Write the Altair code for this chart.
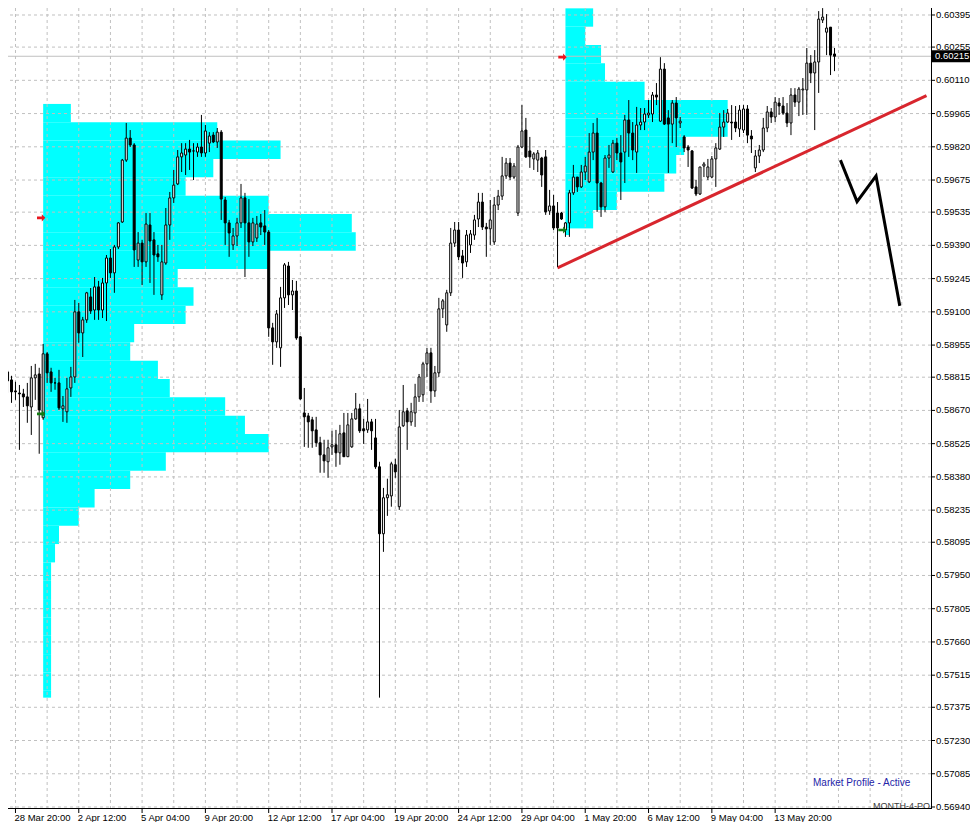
import altair as alt
import pandas as pd

# ---------------- data (H4 bars, bar 0 = 28 Mar 20:00) ----------------
FIRST_BAR = -2
opens = [
    0.58838, 0.58803, 0.58755, 0.58746, 0.58742, 0.58729, 0.58685, 0.58812, 0.58829, 0.58638,
    0.58917, 0.58838, 0.58790, 0.58790, 0.58677, 0.58664, 0.58768, 0.58816, 0.59100, 0.59008,
    0.59065, 0.59165, 0.59108, 0.59209, 0.59108, 0.59226, 0.59335, 0.59270, 0.59383, 0.59492,
    0.59762, 0.59858, 0.59828, 0.59326, 0.59400, 0.59318, 0.59479, 0.59414, 0.59353, 0.59174,
    0.59313, 0.59479, 0.59597, 0.59658, 0.59776, 0.59784, 0.59810, 0.59802, 0.59797, 0.59819,
    0.59793, 0.59836, 0.59871, 0.59841, 0.59884, 0.59588, 0.59488, 0.59392, 0.59431, 0.59488,
    0.59597, 0.59488, 0.59405, 0.59422, 0.59488, 0.59475, 0.59448, 0.59030, 0.58969, 0.58943,
    0.59161, 0.59300, 0.59174, 0.59191, 0.58991, 0.58659, 0.58646, 0.58629, 0.58585, 0.58529,
    0.58476, 0.58446, 0.58511, 0.58520, 0.58485, 0.58572, 0.58468, 0.58511, 0.58633, 0.58677,
    0.58590, 0.58585, 0.58620, 0.58550, 0.58424, 0.58132, 0.58289, 0.58297, 0.58433, 0.58250,
    0.58603, 0.58668, 0.58620, 0.58659, 0.58729, 0.58738, 0.58873, 0.58921, 0.58755, 0.58834,
    0.59113, 0.59043, 0.59183, 0.59400, 0.59457, 0.59344, 0.59318, 0.59392, 0.59435, 0.59505,
    0.59579, 0.59470, 0.59462, 0.59405, 0.59566, 0.59605, 0.59693, 0.59749, 0.59688, 0.59531,
    0.59819, 0.59893, 0.59802, 0.59767, 0.59762, 0.59771, 0.59776, 0.59540, 0.59562, 0.59531,
    0.59531, 0.59457, 0.59488, 0.59619, 0.59688, 0.59645, 0.59710, 0.59667, 0.59797, 0.59880,
    0.59662, 0.59558, 0.59771, 0.59710, 0.59836, 0.59793, 0.59797, 0.59937, 0.59880, 0.59797,
    0.59915, 0.59928, 0.59959, 0.59963, 0.60046, 0.59932, 0.60159, 0.59946, 0.59919, 0.60011,
    0.59924, 0.59863, 0.59819, 0.59802, 0.59645, 0.59614, 0.59736, 0.59688, 0.59688, 0.59767,
    0.59810, 0.59906, 0.59928, 0.59928, 0.59928, 0.59898, 0.59893, 0.59985, 0.59867, 0.59728,
    0.59780, 0.59806, 0.59902, 0.59972, 0.59950, 0.60011, 0.59998, 0.59967, 0.59924, 0.60046,
    0.60015, 0.60068, 0.60068, 0.60185, 0.60142, 0.60190, 0.60373, 0.60320, 0.60342, 0.60225,
]
highs = [
    0.58847, 0.58821, 0.58795, 0.58781, 0.58764, 0.58790, 0.58864, 0.58873, 0.58856, 0.58960,
    0.58925, 0.58856, 0.58812, 0.58847, 0.58733, 0.58812, 0.58860, 0.59152, 0.59139, 0.59078,
    0.59187, 0.59204, 0.59252, 0.59235, 0.59248, 0.59348, 0.59374, 0.59392, 0.59492, 0.59767,
    0.59924, 0.59893, 0.59836, 0.59448, 0.59414, 0.59531, 0.59531, 0.59448, 0.59392, 0.59392,
    0.59553, 0.59623, 0.59719, 0.59806, 0.59836, 0.59836, 0.59850, 0.59836, 0.59836, 0.59959,
    0.59915, 0.59884, 0.59884, 0.59902, 0.59893, 0.59601, 0.59501, 0.59466, 0.59510, 0.59658,
    0.59619, 0.59592, 0.59510, 0.59518, 0.59527, 0.59544, 0.59457, 0.59052, 0.59108, 0.59209,
    0.59313, 0.59318, 0.59239, 0.59235, 0.58995, 0.58768, 0.58659, 0.58642, 0.58642, 0.58555,
    0.58542, 0.58542, 0.58581, 0.58585, 0.58607, 0.58659, 0.58659, 0.58659, 0.58746, 0.58699,
    0.58633, 0.58720, 0.58633, 0.58633, 0.58446, 0.58332, 0.58372, 0.58446, 0.58459, 0.58672,
    0.58781, 0.58681, 0.58703, 0.58786, 0.58829, 0.58882, 0.58943, 0.58943, 0.58864, 0.59161,
    0.59156, 0.59196, 0.59466, 0.59492, 0.59492, 0.59370, 0.59457, 0.59457, 0.59523, 0.59619,
    0.59619, 0.59488, 0.59588, 0.59601, 0.59632, 0.59776, 0.59771, 0.59771, 0.59749, 0.59828,
    0.60002, 0.59946, 0.59863, 0.59797, 0.59806, 0.59776, 0.59806, 0.59632, 0.59610, 0.59579,
    0.59536, 0.59492, 0.59632, 0.59741, 0.59688, 0.59741, 0.59776, 0.59880, 0.59924, 0.59946,
    0.59667, 0.59784, 0.59828, 0.59850, 0.59858, 0.59871, 0.59959, 0.60024, 0.59928, 0.59994,
    0.59989, 0.59989, 0.60024, 0.60059, 0.60098, 0.60211, 0.60185, 0.59980, 0.60024, 0.60037,
    0.59950, 0.59871, 0.59828, 0.59806, 0.59675, 0.59732, 0.59754, 0.59767, 0.59780, 0.59836,
    0.59967, 0.59980, 0.59985, 0.60002, 0.59998, 0.60002, 0.60002, 0.60002, 0.59893, 0.59806,
    0.59828, 0.59946, 0.59998, 0.59989, 0.60037, 0.60033, 0.60037, 0.60011, 0.60076, 0.60076,
    0.60081, 0.60120, 0.60251, 0.60220, 0.60242, 0.60412, 0.60425, 0.60399, 0.60342, 0.60251,
]
lows = [
    0.58747, 0.58703, 0.58716, 0.58498, 0.58685, 0.58616, 0.58563, 0.58716, 0.58481, 0.58629,
    0.58790, 0.58751, 0.58760, 0.58672, 0.58620, 0.58616, 0.58729, 0.58790, 0.58965, 0.58903,
    0.59052, 0.59091, 0.59065, 0.59065, 0.59073, 0.59060, 0.59248, 0.59183, 0.59374, 0.59488,
    0.59754, 0.59819, 0.59296, 0.59296, 0.59217, 0.59296, 0.59226, 0.59174, 0.59318, 0.59152,
    0.59305, 0.59414, 0.59575, 0.59653, 0.59710, 0.59697, 0.59719, 0.59675, 0.59776, 0.59776,
    0.59776, 0.59797, 0.59836, 0.59815, 0.59501, 0.59392, 0.59340, 0.59370, 0.59387, 0.59466,
    0.59252, 0.59340, 0.59387, 0.59405, 0.59435, 0.59392, 0.58991, 0.58869, 0.58943, 0.58860,
    0.59117, 0.59130, 0.59108, 0.58978, 0.58716, 0.58511, 0.58507, 0.58507, 0.58511, 0.58398,
    0.58398, 0.58376, 0.58476, 0.58424, 0.58433, 0.58468, 0.58468, 0.58507, 0.58629, 0.58572,
    0.58524, 0.58572, 0.58498, 0.58415, 0.57417, 0.58053, 0.58210, 0.58250, 0.58376, 0.58236,
    0.58598, 0.58498, 0.58603, 0.58598, 0.58707, 0.58707, 0.58816, 0.58703, 0.58729, 0.58816,
    0.59073, 0.59013, 0.59169, 0.59383, 0.59326, 0.59248, 0.59296, 0.59357, 0.59414, 0.59470,
    0.59457, 0.59340, 0.59392, 0.59392, 0.59544, 0.59588, 0.59680, 0.59675, 0.59680, 0.59518,
    0.59815, 0.59771, 0.59728, 0.59719, 0.59710, 0.59645, 0.59523, 0.59523, 0.59457, 0.59296,
    0.59501, 0.59427, 0.59427, 0.59610, 0.59623, 0.59640, 0.59675, 0.59662, 0.59762, 0.59536,
    0.59514, 0.59536, 0.59728, 0.59706, 0.59762, 0.59588, 0.59662, 0.59776, 0.59762, 0.59706,
    0.59893, 0.59893, 0.59946, 0.59928, 0.60002, 0.59928, 0.59915, 0.59706, 0.59836, 0.59819,
    0.59902, 0.59797, 0.59732, 0.59636, 0.59605, 0.59610, 0.59688, 0.59675, 0.59684, 0.59645,
    0.59806, 0.59863, 0.59924, 0.59850, 0.59884, 0.59863, 0.59880, 0.59836, 0.59793, 0.59710,
    0.59749, 0.59797, 0.59884, 0.59924, 0.59928, 0.59959, 0.59959, 0.59906, 0.59871, 0.59994,
    0.59954, 0.59959, 0.59959, 0.60098, 0.59893, 0.60055, 0.60360, 0.60220, 0.60133, 0.60150,
]
closes = [
    0.58799, 0.58751, 0.58751, 0.58742, 0.58729, 0.58690, 0.58812, 0.58825, 0.58672, 0.58917,
    0.58834, 0.58790, 0.58790, 0.58681, 0.58690, 0.58764, 0.58816, 0.59100, 0.59008, 0.59065,
    0.59183, 0.59104, 0.59209, 0.59108, 0.59226, 0.59335, 0.59270, 0.59383, 0.59488, 0.59762,
    0.59858, 0.59828, 0.59370, 0.59400, 0.59318, 0.59483, 0.59409, 0.59348, 0.59340, 0.59318,
    0.59479, 0.59597, 0.59653, 0.59776, 0.59793, 0.59810, 0.59797, 0.59802, 0.59819, 0.59793,
    0.59889, 0.59867, 0.59841, 0.59884, 0.59592, 0.59488, 0.59444, 0.59431, 0.59488, 0.59597,
    0.59488, 0.59405, 0.59488, 0.59483, 0.59470, 0.59448, 0.59030, 0.58969, 0.59091, 0.59161,
    0.59305, 0.59174, 0.59191, 0.58986, 0.58720, 0.58642, 0.58620, 0.58581, 0.58529, 0.58476,
    0.58450, 0.58507, 0.58520, 0.58485, 0.58568, 0.58468, 0.58607, 0.58633, 0.58677, 0.58581,
    0.58581, 0.58620, 0.58581, 0.58424, 0.58132, 0.58289, 0.58302, 0.58437, 0.58402, 0.58598,
    0.58664, 0.58620, 0.58664, 0.58729, 0.58816, 0.58873, 0.58921, 0.58755, 0.58834, 0.59113,
    0.59148, 0.59183, 0.59400, 0.59457, 0.59340, 0.59313, 0.59435, 0.59440, 0.59501, 0.59579,
    0.59470, 0.59462, 0.59501, 0.59566, 0.59605, 0.59693, 0.59749, 0.59688, 0.59736, 0.59819,
    0.59889, 0.59776, 0.59776, 0.59789, 0.59793, 0.59697, 0.59536, 0.59562, 0.59466, 0.59466,
    0.59505, 0.59488, 0.59619, 0.59688, 0.59645, 0.59710, 0.59736, 0.59797, 0.59880, 0.59662,
    0.59558, 0.59771, 0.59784, 0.59836, 0.59793, 0.59754, 0.59937, 0.59880, 0.59806, 0.59915,
    0.59928, 0.59963, 0.59967, 0.60046, 0.60037, 0.60159, 0.59919, 0.59919, 0.60011, 0.59946,
    0.59932, 0.59815, 0.59806, 0.59640, 0.59614, 0.59732, 0.59745, 0.59732, 0.59767, 0.59815,
    0.59906, 0.59928, 0.59967, 0.59924, 0.59902, 0.59980, 0.59985, 0.59871, 0.59854, 0.59780,
    0.59806, 0.59902, 0.59972, 0.59950, 0.60015, 0.59998, 0.59967, 0.59924, 0.60046, 0.60015,
    0.60072, 0.60072, 0.60185, 0.60142, 0.60190, 0.60377, 0.60386, 0.60338, 0.60220, 0.60215,
]

tick_bars = [0, 16, 32, 48, 64, 80, 96, 112, 128, 144, 160, 176, 192]
tick_labels = ["28 Mar 20:00", "2 Apr 12:00", "5 Apr 04:00", "9 Apr 20:00", "12 Apr 12:00",
               "17 Apr 04:00", "19 Apr 20:00", "24 Apr 12:00", "29 Apr 04:00", "1 May 20:00",
               "6 May 12:00", "9 May 04:00", "13 May 20:00"]
y_ticks = [0.60395, 0.60255, 0.60110, 0.59965, 0.59820, 0.59675, 0.59535, 0.59390, 0.59245,
           0.59100, 0.58955, 0.58815, 0.58670, 0.58525, 0.58380, 0.58235, 0.58095, 0.57950,
           0.57805, 0.57660, 0.57515, 0.57375, 0.57230, 0.57085, 0.56940]

# Market profile (April): start bar, row tops, TPO counts, bottom price
p1_start = 7
p1_top = [0.60007, 0.59927, 0.59847, 0.59767, 0.59687, 0.59607, 0.59527, 0.59447, 0.59367,
          0.59287, 0.59207, 0.59127, 0.59047, 0.58967, 0.58887, 0.58807, 0.58727, 0.58647,
          0.58567, 0.58487, 0.58407, 0.58327, 0.58247, 0.58167, 0.58087, 0.58007, 0.57927,
          0.57847, 0.57767, 0.57687, 0.57607, 0.57527, 0.57447]
p1_tpo = [7, 44, 60, 43, 36, 57, 78, 79, 57, 34, 38, 36, 23, 22, 29, 32, 46, 51, 57, 31,
          22, 13, 9, 4, 3, 2, 2, 2, 2, 2, 2, 2, 2]
p1_low = 0.57417
# Market profile (May)
p2_start = 139
p2_top = [0.60424, 0.60344, 0.60264, 0.60184, 0.60104, 0.60024, 0.59944, 0.59864, 0.59784,
          0.59704, 0.59624, 0.59544, 0.59464]
p2_tpo = [7, 5, 9, 10, 20, 41, 41, 30, 28, 25, 13, 7, 1]
p2_low = 0.59435

trend_bars = [137, 230.25]
trend_prices = [0.59292, 0.60043]
zig_bars = [208.5, 212.7, 217.5, 223.5]
zig_prices = [0.59762, 0.59581, 0.59693, 0.59126]
arrow_bars = [6.5, 6.5, 138.25, 138.25]
arrow_prices = [0.59510, 0.58655, 0.60211, 0.59457]
arrow_kind = ["hi", "lo", "hi", "lo"]
current_price = 0.60215

# ---------------- layout ----------------
W, H = 923, 800
X_DOMAIN = [-0.625, 230.125]      # 4 px per bar, bar centres on pixel centres
Y_DOMAIN = [0.569356, 0.604255]
FONT = "Liberation Sans"

# ---------------- tables ----------------
n = min(len(opens), len(highs), len(lows), len(closes))
bars = list(range(FIRST_BAR, FIRST_BAR + n))
cdf = pd.DataFrame({"bar": bars, "open": opens[:n], "high": highs[:n],
                    "low": lows[:n], "close": closes[:n]})
cdf["bt"] = cdf[["open", "close"]].max(axis=1)
cdf["bb"] = cdf[["open", "close"]].min(axis=1)
cdf["high"] = cdf[["high", "bt"]].max(axis=1)
cdf["low"] = cdf[["low", "bb"]].min(axis=1)
cdf["dir"] = ["up" if c >= o else "down" for o, c in zip(cdf["open"], cdf["close"])]

rows = []
for start, tops, tpos, low in [(p1_start, p1_top, p1_tpo, p1_low), (p2_start, p2_top, p2_tpo, p2_low)]:
    bottoms = tops[1:] + [low]
    for t, b, k in zip(tops, bottoms, tpos):
        rows.append({"x0": start, "x1": start + k, "top": t, "bottom": b})
pdf = pd.DataFrame(rows)

xs = alt.Scale(domain=X_DOMAIN, nice=False, zero=False)
ys = alt.Scale(domain=Y_DOMAIN, nice=False, zero=False)


def X(f):
    return alt.X(f, scale=xs, axis=None, title=None)


def Y(f):
    return alt.Y(f, scale=ys, axis=None, title=None)


profile = alt.Chart(pdf).mark_rect(color="#00ffff", clip=True).encode(
    x=X("x0:Q"), x2="x1:Q", y=Y("top:Q"), y2="bottom:Q")

ytick_df = pd.DataFrame({"p": y_ticks})
grid_y = alt.Chart(ytick_df).mark_rule(
    color="#c0c0c0", strokeDash=[3, 3], strokeWidth=1, clip=True).encode(y=Y("p:Q"))
grid_x = alt.Chart(pd.DataFrame({"b": list(range(0, 231, 8))})).mark_rule(
    color="#c0c0c0", strokeDash=[3, 3], strokeWidth=1, clip=True).encode(x=X("b:Q"))

price_line = alt.Chart(pd.DataFrame({"p": [current_price]})).mark_rule(
    color="#c0c0c0", strokeWidth=1).encode(y=Y("p:Q"))

trend = alt.Chart(pd.DataFrame({"b": trend_bars, "p": trend_prices})).mark_line(
    color="#d8262e", strokeWidth=3, clip=True).encode(x=X("b:Q"), y=Y("p:Q"))

zig = alt.Chart(pd.DataFrame({"b": zig_bars, "p": zig_prices,
                              "o": list(range(len(zig_bars)))})).mark_line(
    color="black", strokeWidth=3, clip=True).encode(x=X("b:Q"), y=Y("p:Q"), order="o:Q")

wicks = alt.Chart(cdf).mark_rule(color="black", strokeWidth=1, clip=True).encode(
    x=X("bar:Q"), y=Y("low:Q"), y2="high:Q")

bodies = alt.Chart(cdf).mark_bar(width=2, stroke="black", strokeWidth=1, clip=True).encode(
    x=X("bar:Q"), y=Y("bb:Q"), y2="bt:Q",
    fill=alt.Fill("dir:N", scale=alt.Scale(domain=["up", "down"], range=["white", "black"]), legend=None))

ARROW = "M -1 -0.32 L 0.15 -0.32 L 0.15 -0.85 L 1 0 L 0.15 0.85 L 0.15 0.32 L -1 0.32 Z"
arrows = alt.Chart(pd.DataFrame({"b": arrow_bars, "p": arrow_prices, "k": arrow_kind})).mark_point(
    shape=ARROW, filled=True, size=70, opacity=1).encode(
    x=X("b:Q"), y=Y("p:Q"),
    color=alt.Color("k:N", scale=alt.Scale(domain=["hi", "lo"], range=["#e8161e", "#137a13"]), legend=None))

# ---- hand-built axes (MetaTrader style) ----
y_domain_line = alt.Chart(pd.DataFrame({"a": [0]})).mark_rule(color="black", strokeWidth=1).encode(
    x=alt.value(W + 0.5), y=alt.value(0), y2=alt.value(H))
x_domain_line = alt.Chart(pd.DataFrame({"a": [0]})).mark_rule(color="black", strokeWidth=1).encode(
    y=alt.value(H + 0.5), x=alt.value(0), x2=alt.value(W + 1))
y_tick_marks = alt.Chart(ytick_df).mark_rule(color="black", strokeWidth=1).encode(
    y=Y("p:Q"), x=alt.value(W), x2=alt.value(W + 4))
y_tick_labels = alt.Chart(ytick_df).mark_text(
    align="left", baseline="middle", font=FONT, fontSize=9.5, color="black").encode(
    y=Y("p:Q"), x=alt.value(W + 5), text=alt.Text("p:Q", format=".5f"))
xtick_df = pd.DataFrame({"b": tick_bars, "t": tick_labels})
x_tick_marks = alt.Chart(xtick_df).mark_rule(color="black", strokeWidth=1).encode(
    x=X("b:Q"), y=alt.value(H), y2=alt.value(H + 5))
x_tick_labels = alt.Chart(xtick_df).mark_text(
    align="left", baseline="alphabetic", font=FONT, fontSize=9.5, color="black", dx=-1).encode(
    x=X("b:Q"), y=alt.value(H + 13), text="t:N")

pbox = alt.Chart(pd.DataFrame({"p": [current_price]})).mark_rule(
    color="black", strokeWidth=12, strokeCap="butt").encode(
    y=Y("p:Q"), x=alt.value(W + 1), x2=alt.value(W + 39))
ptext = alt.Chart(pd.DataFrame({"p": [current_price]})).mark_text(
    color="white", align="left", baseline="middle", font=FONT, fontSize=9.5).encode(
    y=Y("p:Q"), x=alt.value(W + 4), text=alt.Text("p:Q", format=".5f"))

mp_text = alt.Chart(pd.DataFrame({"t": ["Market Profile - Active"]})).mark_text(
    color="#2424a8", align="left", baseline="middle", font=FONT, fontSize=10).encode(
    x=alt.value(805), y=alt.value(775), text="t:N")
obj_text = alt.Chart(pd.DataFrame({"t": ["MONTH-4-PO"]})).mark_text(
    color="#404040", align="left", baseline="alphabetic", font=FONT, fontSize=9).encode(
    x=alt.value(865), y=alt.value(H + 0.5), text="t:N")

chart = alt.layer(
    profile, grid_y, grid_x, price_line, trend, zig, wicks, bodies, arrows,
    mp_text, obj_text,
    y_domain_line, x_domain_line, y_tick_marks, y_tick_labels, x_tick_marks, x_tick_labels,
    pbox, ptext,
).properties(
    width=W, height=H,
    padding={"left": 0, "top": 0, "right": 39, "bottom": 14},
    autosize=alt.AutoSizeParams(type="none"),
    background="white",
).configure_view(stroke=None)

chart.save("out.html", embed_options={"renderer": "svg", "actions": False})
